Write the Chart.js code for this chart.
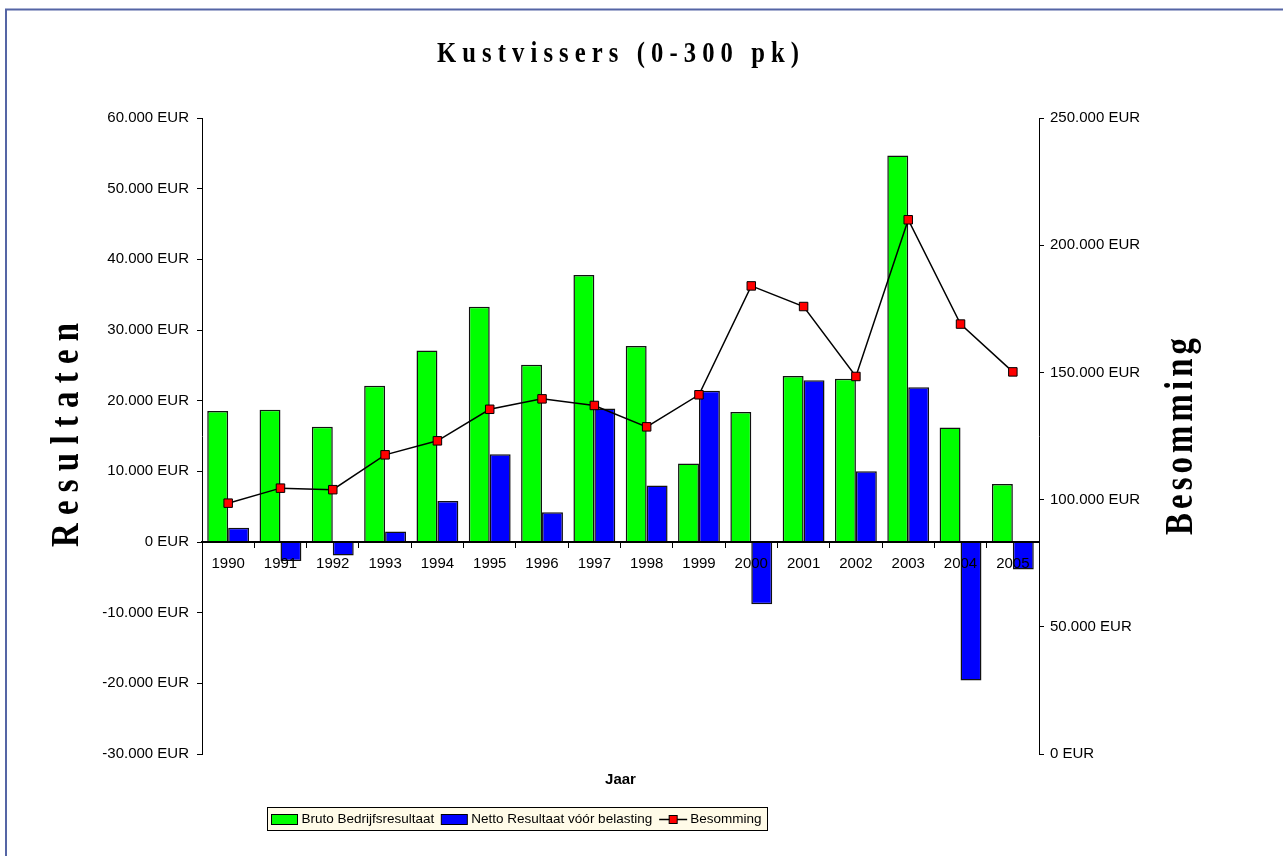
<!DOCTYPE html>
<html>
<head>
<meta charset="utf-8">
<title>Kustvissers (0-300 pk)</title>
<script src="https://cdn.jsdelivr.net/npm/chart.js@4.4.1/dist/chart.umd.min.js"></script>
<style>
  html, body { margin: 0; padding: 0; background: #fff; }
  #wrap { position: relative; width: 1283px; height: 856px; }
</style>
</head>
<body>
<div id="wrap"><canvas id="chart" width="1283" height="856"></canvas></div>
<script>
// Data
const years = ['1990', '1991', '1992', '1993', '1994', '1995', '1996', '1997',
               '1998', '1999', '2000', '2001', '2002', '2003', '2004', '2005'];
const brutoBedrijfsresultaat = [18550, 18700, 16300, 22100, 27100, 33300, 25100, 37800,
                                27750, 11100, 18400, 23500, 23100, 54700, 16200, 8200];
const nettoResultaat = [2000, -2700, -1900, 1500, 5800, 12400, 4200, 18900,
                        8000, 21400, -8800, 22900, 10000, 21900, -19600, -3900];
const besomming = [98600, 104500, 103900, 117600, 123100, 135500, 139600, 137000,
                   128600, 141200, 184000, 175900, 148400, 210000, 169000, 150200];
const seriesNames = ['Bruto Bedrijfsresultaat', 'Netto Resultaat vóór belasting', 'Besomming'];

const SANS = '"Liberation Sans", Arial, sans-serif';
const SERIF = '"Liberation Serif", "Times New Roman", serif';

// 60000 -> "60.000 EUR"
function eur(v) {
    return String(v).replace(/\B(?=(\d{3})+(?!\d))/g, '.') + ' EUR';
}

// draw text with its letters spread over a given length
function spacedText(ctx, text, span, sx) {
    const chars = Array.from(text);
    const widths = chars.map(c => ctx.measureText(c).width);
    const total = widths.reduce((a, b) => a + b, 0);
    const gap = (span / sx - total) / (chars.length - 1);
    ctx.save();
    ctx.scale(sx, 1);
    let x = 0;
    chars.forEach((c, i) => {
        ctx.fillText(c, x, 0);
        x += widths[i] + gap;
    });
    ctx.restore();
}

// Frame, titles and legend
const decor = {
    id: 'decor',
    beforeDraw(chart) {
        const ctx = chart.ctx;
        ctx.save();
        ctx.fillStyle = '#fff';
        ctx.fillRect(0, 0, chart.width, chart.height);
        ctx.strokeStyle = '#5565a5';
        ctx.lineWidth = 2;
        ctx.beginPath();
        ctx.moveTo(6, chart.height);
        ctx.lineTo(6, 9.5);
        ctx.lineTo(chart.width, 9.5);
        ctx.stroke();
        ctx.restore();
    },
    afterDraw(chart) {
        const ctx = chart.ctx;
        const area = chart.chartArea;
        ctx.save();
        ctx.fillStyle = '#000';
        ctx.textBaseline = 'alphabetic';
        ctx.textAlign = 'left';

        // main title
        ctx.font = 'bold 29px ' + SERIF;
        ctx.save();
        ctx.translate(437, 62);
        spacedText(ctx, 'Kustvissers (0-300 pk)', 362, 0.85);
        ctx.restore();

        // axis titles
        ctx.font = 'bold 41px ' + SERIF;
        ctx.save();
        ctx.translate(78, 547);
        ctx.rotate(-Math.PI / 2);
        spacedText(ctx, 'Resultaten', 224, 0.8);
        ctx.restore();

        ctx.save();
        ctx.translate(1192, 535);
        ctx.rotate(-Math.PI / 2);
        spacedText(ctx, 'Besomming', 197, 0.8);
        ctx.restore();

        ctx.font = 'bold 15px ' + SANS;
        ctx.textAlign = 'center';
        ctx.textBaseline = 'middle';
        ctx.fillText('Jaar', (area.left + area.right) / 2, 780);

        // legend
        const lx = 267.5, ly = 807.5, lw = 500, lh = 23;
        ctx.fillStyle = '#fffbe8';
        ctx.fillRect(lx, ly, lw, lh);
        ctx.strokeStyle = '#000';
        ctx.lineWidth = 1;
        ctx.strokeRect(lx, ly, lw, lh);

        ctx.font = '13.5px ' + SANS;
        ctx.textAlign = 'left';
        const cy = 819.5;
        let x = 271.5;
        const swatch = (color) => {
            ctx.fillStyle = color;
            ctx.fillRect(x, cy - 5, 26, 10);
            ctx.strokeRect(x, cy - 5, 26, 10);
            x += 30;
        };
        const label = (t) => {
            ctx.fillStyle = '#000';
            ctx.fillText(t, x, cy);
            x += ctx.measureText(t).width + 7;
        };
        swatch('#00ff00');
        label(seriesNames[0]);
        swatch('#0000ff');
        label(seriesNames[1]);
        ctx.beginPath();
        ctx.moveTo(x, cy);
        ctx.lineTo(x + 28, cy);
        ctx.lineWidth = 1.5;
        ctx.stroke();
        ctx.lineWidth = 1;
        ctx.fillStyle = '#ff0000';
        ctx.fillRect(x + 10, cy - 4, 8, 8);
        ctx.strokeRect(x + 10, cy - 4, 8, 8);
        x += 31;
        label(seriesNames[2]);

        ctx.restore();
    }
};

const tickFont = { family: SANS, size: 15 };

new Chart(document.getElementById('chart').getContext('2d'), {
    type: 'bar',
    data: {
        labels: years,
        datasets: [
            {
                label: seriesNames[0],
                data: brutoBedrijfsresultaat,
                backgroundColor: '#00ff00',
                borderColor: '#111',
                borderWidth: 1.5,
                categoryPercentage: 0.8,
                barPercentage: 1,
                yAxisID: 'y',
                order: 1
            },
            {
                label: seriesNames[1],
                data: nettoResultaat,
                backgroundColor: '#0000ff',
                borderColor: '#111',
                borderWidth: 1.5,
                categoryPercentage: 0.8,
                barPercentage: 1,
                yAxisID: 'y',
                order: 1
            },
            {
                type: 'line',
                label: seriesNames[2],
                data: besomming,
                yAxisID: 'y1',
                borderColor: '#000',
                borderWidth: 1.5,
                tension: 0,
                pointStyle: 'rect',
                pointRadius: 6,
                pointBackgroundColor: '#ff0000',
                pointBorderColor: '#000',
                pointBorderWidth: 1,
                order: 0
            }
        ]
    },
    options: {
        responsive: false,
        animation: false,
        layout: { padding: { top: 118, bottom: 102, left: 0, right: 0 } },
        plugins: {
            legend: { display: false },
            title: { display: false },
            tooltip: { enabled: false }
        },
        scales: {
            x: {
                position: { y: 0 },
                offset: true,
                grid: { offset: true, drawOnChartArea: false, tickLength: 5, color: '#000', z: 1 },
                border: { color: '#000', width: 2, z: 1 },
                ticks: { padding: 8, color: '#000', font: tickFont, maxRotation: 0, autoSkip: false, z: 1 }
            },
            y: {
                position: 'left',
                min: -30000,
                max: 60000,
                grid: { drawOnChartArea: false, tickLength: 5, color: '#000' },
                border: { color: '#000', width: 1 },
                ticks: { stepSize: 10000, padding: 8, color: '#000', font: tickFont, callback: eur },
                afterFit: s => { s.width = 202; }
            },
            y1: {
                position: 'right',
                min: 0,
                max: 250000,
                grid: { drawOnChartArea: false, tickLength: 5, color: '#000' },
                border: { color: '#000', width: 1 },
                ticks: { stepSize: 50000, padding: 6, color: '#000', font: tickFont, callback: eur },
                afterFit: s => { s.width = 244; }
            }
        }
    },
    plugins: [decor]
});
</script>
</body>
</html>
